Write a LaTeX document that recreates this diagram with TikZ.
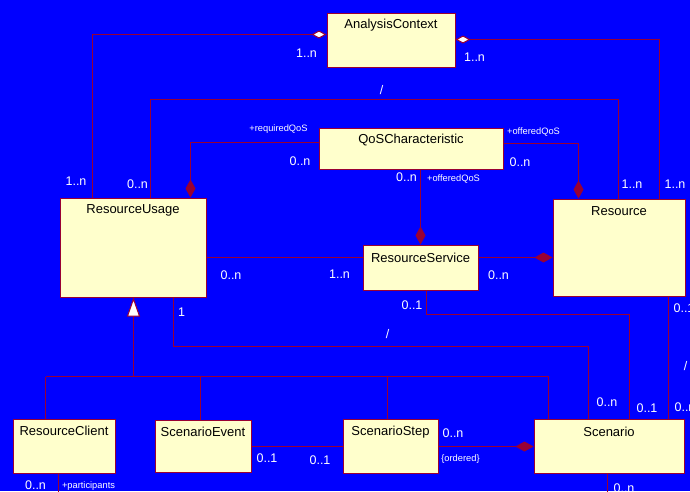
\documentclass[tikz,border=0pt]{standalone}
\usepackage{fontspec}
\setmainfont{Liberation Sans}
\usetikzlibrary{arrows.meta}
\definecolor{sfondo}{RGB}{0,0,255}
\definecolor{bordo}{RGB}{153,0,51}
\definecolor{crema}{RGB}{255,255,204}

\begin{document}
\begin{tikzpicture}[x=1pt,y=-1pt,
    classe/.style={draw=bordo,line width=1pt,fill=crema,inner sep=0pt,anchor=north west},
    nome/.style={font=\fontsize{13}{15}\selectfont,text=black,inner sep=0pt},
    molt/.style={font=\fontsize{12.5}{14}\selectfont,text=white,inner sep=0pt},
    ruolo/.style={font=\fontsize{9.3}{11}\selectfont,text=white,inner sep=0pt},
    linea/.style={draw=bordo,line width=1pt},
    comp/.style={arrows={Diamond[length=18pt,width=10pt,fill=bordo]-}},
    aggr/.style={arrows={Diamond[length=15pt,width=8pt,fill=white]-}},
    eredita/.style={arrows={Triangle[length=19pt,width=13pt,fill=white]-}}]

        % Sfondo
        \useasboundingbox (-0.5,-0.5) rectangle (689.5,490.5);
        \fill[sfondo] (-0.5,-0.5) rectangle (689.5,490.5);

        % Classi
        \node[classe,minimum width=128pt,minimum height=54pt] (ac) at (326,12) {};
        \node[classe,minimum width=184pt,minimum height=41pt] (qos) at (318,127) {};
        \node[classe,minimum width=146pt,minimum height=99pt] (ru) at (59,197) {};
        \node[classe,minimum width=115pt,minimum height=45pt] (rs) at (362,244) {};
        \node[classe,minimum width=132pt,minimum height=97pt] (res) at (552,198) {};
        \node[classe,minimum width=102pt,minimum height=54pt] (rc) at (12,418) {};
        \node[classe,minimum width=96pt,minimum height=52pt] (se) at (154,419) {};
        \node[classe,minimum width=95pt,minimum height=54pt] (ss) at (342,418) {};
        \node[classe,minimum width=150pt,minimum height=54pt] (sc) at (533,418) {};

        % Nomi delle classi
        \node[nome] (acT) at ([yshift=-12.5pt]ac.north) {AnalysisContext};
        \node[nome] (qosT) at ([yshift=-12.5pt]qos.north) {QoSCharacteristic};
        \node[nome] (ruT) at ([yshift=-12.5pt]ru.north) {ResourceUsage};
        \node[nome] (rsT) at ([yshift=-13pt]rs.north) {ResourceService};
        \node[nome] (resT) at ([yshift=-13pt]res.north) {Resource};
        \node[nome] (rcT) at ([yshift=-12.5pt]rc.north) {ResourceClient};
        \node[nome] (seT) at ([yshift=-12.5pt]se.north) {ScenarioEvent};
        \node[nome] (ssT) at ([yshift=-13.5pt]ss.north) {ScenarioStep};
        \node[nome] (scT) at ([yshift=-13.5pt]sc.north) {Scenario};

        % Aggregazioni con AnalysisContext
        \draw[linea,aggr] (ac.west |- 0,34) -| (ru.north -| 92,0);
        \draw[linea,aggr] (ac.east |- 0,39) -| (res.north -| 659,0);

        % Associazione derivata ResourceUsage - Resource
        \draw[linea] (ru.north -| 150,0) -- (150,99) -- (618,99) -- (res.north -| 618,0);

        % QoS
        \draw[linea,comp] (ru.north -| 190,0) |- (qos.west |- 0,142);
        \draw[linea,comp] (res.north -| 578,0) |- (qos.east |- 0,143);
        \draw[linea,comp] (rs.north -| 420,0) -- (qos.south -| 420,0);

        % ResourceService
        \draw[linea] (ru.east |- 0,257) -- (rs.west |- 0,257);
        \draw[linea,comp] (res.west |- 0,257) -- (rs.east |- 0,257);
        \draw[linea] (rs.south -| 426,0) -- (426,314) -- (629,314) -- (sc.north -| 629,0);

        % Verso Scenario
        \draw[linea] (ru.south -| 173,0) -- (173,346) -- (588,346) -- (sc.north -| 588,0);
        \draw[linea] (res.south -| 668,0) -- (sc.north -| 668,0);
        \draw[linea] (se.east |- 0,446) -- (ss.west |- 0,446);
        \draw[linea,comp] (sc.west |- 0,446) -- (ss.east |- 0,446);

        % Generalizzazione
        \coordinate (ramo) at (133,376);
        \draw[linea,eredita] (ru.south -| ramo) -- (ramo);
        \draw[linea] (45,376) -- (548,376);
        \foreach \c/\x in {rc/45,se/200,ss/387,sc/548}
            \draw[linea] (\c.north -| \x,0) -- (\x,376);

        % Linee che escono in basso
        \coordinate (fuoriA) at (58,495);
        \coordinate (fuoriB) at (607,495);
        \draw[linea] (rc.south -| fuoriA) -- (fuoriA);
        \draw[linea] (sc.south -| fuoriB) -- (fuoriB);

        % Molteplicita
        \node[molt] (m1) at (306,52.5) {1..n};
        \node[molt] (m2) at (474,57) {1..n};
        \node[molt] (m3) at (75.5,181) {1..n};
        \node[molt] (m4) at (137,184) {0..n};
        \node[molt] (m5) at (299.5,161) {0..n};
        \node[molt] (m6) at (519.5,162) {0..n};
        \node[molt] (m7) at (406,177) {0..n};
        \node[molt] (m8) at (631.5,183.5) {1..n};
        \node[molt] (m9) at (674.5,183.5) {1..n};
        \node[molt] (m10) at (230.5,274.5) {0..n};
        \node[molt] (m11) at (339,274) {1..n};
        \node[molt] (m12) at (498,274.5) {0..n};
        \node[molt] (m13) at (411.5,305) {0..1};
        \node[molt] (m14) at (683.5,308) {0..1};
        \node[molt] (m15) at (181,312) {1};
        \node[molt] (m16) at (606.5,402) {0..n};
        \node[molt] (m17) at (646.5,407.5) {0..1};
        \node[molt] (m18) at (684.5,407) {0..n};
        \node[molt] (m19) at (452.5,433) {0..n};
        \node[molt] (m20) at (266.5,458) {0..1};
        \node[molt] (m21) at (319.5,460) {0..1};
        \node[molt] (m22) at (35,485) {0..n};
        \node[molt] (m23) at (623.5,488) {0..n};

        % Derivate
        \node[molt] (d1) at (381,90) {/};
        \node[molt] (d2) at (387,334) {/};
        \node[molt] (d3) at (685,366) {/};

        % Ruoli
        \node[ruolo] (r1) at (278,129) {+requiredQoS};
        \node[ruolo] (r2) at (533,132) {+offeredQoS};
        \node[ruolo] (r3) at (453,178.5) {+offeredQoS};
        \node[ruolo] (r4) at (460,459) {\{ordered\}};
        \node[ruolo] (r5) at (88,486) {+participants};
      \end{tikzpicture}
\end{document}
